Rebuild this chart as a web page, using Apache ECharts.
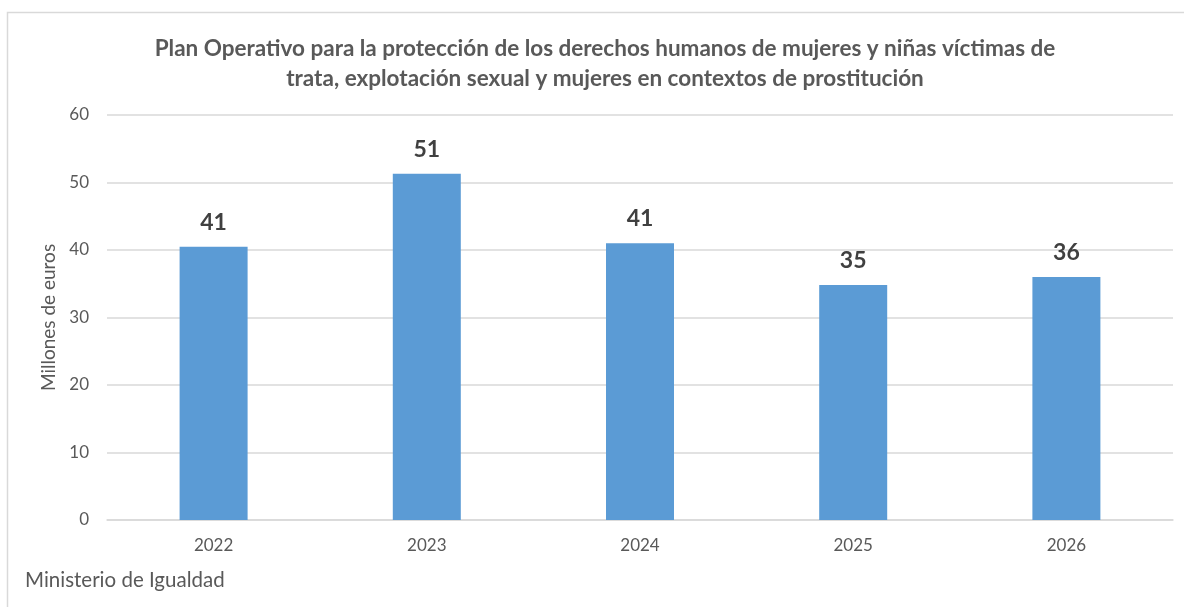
<!DOCTYPE html>
<html>
<head>
<meta charset="utf-8">
<script src="https://cdn.jsdelivr.net/npm/echarts@6/dist/echarts.min.js"></script>
<style>
  html, body { margin: 0; padding: 0; background: #fff; }
  #chart { width: 1184px; height: 607px; }
</style>
</head>
<body>
<div id="chart"></div>
<script>
const years = ['2022', '2023', '2024', '2025', '2026']
const amounts = [40.5, 51.3, 41.0, 34.8, 36.0]
const yTicks = { min: 0, max: 60, interval: 10 }

const font = 'Lato, "Open Sans", sans-serif'
const chart = echarts.init(document.getElementById('chart'))

chart.setOption({
  backgroundColor: '#ffffff',
  animation: false,
  title: {
    text: 'Plan Operativo para la protección de los derechos humanos de mujeres y niñas víctimas de\ntrata, explotación sexual y mujeres en contextos de prostitución',
    left: 600,
    top: 29,
    textAlign: 'center',
    textStyle: {
      fontFamily: font,
      fontSize: 22.5,
      fontWeight: 'bold',
      color: '#595959',
      lineHeight: 30
    }
  },
  graphic: [
    {
      type: 'rect',
      shape: { x: 7.5, y: 12.5, width: 1200, height: 620 },
      style: { fill: 'none', stroke: '#d9d9d9', lineWidth: 1.5 },
      silent: true
    },
    {
      type: 'text',
      left: 25,
      top: 570,
      style: {
        text: 'Ministerio de Igualdad',
        fontFamily: font,
        fontSize: 20.5,
        fill: '#595959'
      }
    }
  ],
  grid: { left: 107, right: 11, top: 115, bottom: 87 },
  xAxis: {
    type: 'category',
    data: years,
    axisLine: { lineStyle: { color: '#d9d9d9', width: 1.5 } },
    axisTick: { show: false },
    axisLabel: { fontFamily: font, fontSize: 17, color: '#595959', margin: 17 }
  },
  yAxis: {
    type: 'value',
    min: yTicks.min,
    max: yTicks.max,
    interval: yTicks.interval,
    name: 'Millones de euros',
    nameLocation: 'middle',
    nameGap: 48,
    nameTextStyle: { fontFamily: font, fontSize: 19, color: '#595959' },
    axisLine: { show: false },
    axisTick: { show: false },
    axisLabel: { fontFamily: font, fontSize: 17, color: '#595959', margin: 18 },
    splitLine: { lineStyle: { color: '#d9d9d9', width: 1.5 } }
  },
  series: [{
    type: 'bar',
    data: amounts,
    barWidth: 68,
    itemStyle: { color: '#5b9bd5' },
    label: {
      show: true,
      position: 'top',
      distance: 13,
      fontFamily: font,
      fontSize: 23,
      fontWeight: 'bold',
      color: '#404040',
      formatter: p => Math.round(p.value)
    }
  }]
})
</script>
</body>
</html>
